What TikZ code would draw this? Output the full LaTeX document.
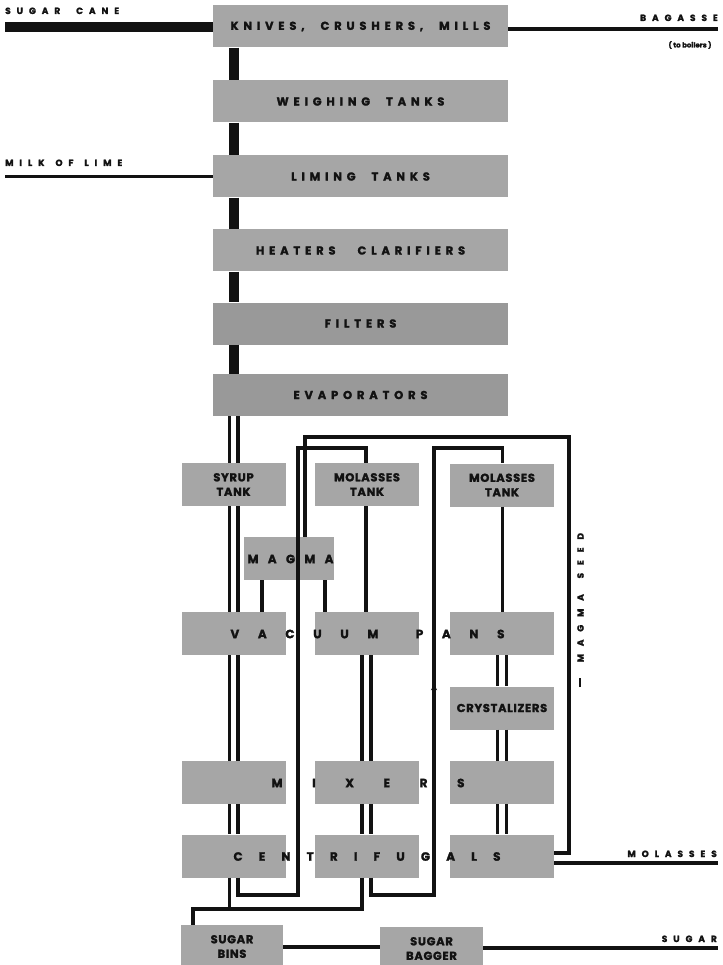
\documentclass[tikz,border=0pt]{standalone}
\usepackage{fontspec}
\setmainfont{Poppins}[BoldFeatures={FakeBold=1.8}]
\newfontfamily\widefont{Poppins}[LetterSpace=42,WordSpace=2.2,BoldFeatures={FakeBold=1.8}]
\newfontfamily\edgefont{Poppins}[LetterSpace=66,WordSpace=1.4,BoldFeatures={FakeBold=1.8}]
\newfontfamily\tightfont{Poppins}[LetterSpace=6,BoldFeatures={FakeBold=1.8}]
\usetikzlibrary{arrows.meta,decorations.markings}
\newcommand\spread[2]{\makebox[#1][s]{#2}}
\definecolor{boxgray}{RGB}{166,166,166}
\definecolor{darkgray}{RGB}{153,153,153}
\definecolor{ink}{RGB}{18,18,18}

\begin{document}
\begin{tikzpicture}[x=1pt,y=-1pt,
  unit/.style={fill=boxgray,text=ink,inner sep=0pt,minimum width=295pt,minimum height=42pt,
    font=\widefont\bfseries\fontsize{11.5}{13}\selectfont},
  vessel/.style={unit,minimum width=104pt,minimum height=43pt,align=center,
    font=\tightfont\bfseries\fontsize{11.5}{14.5}\selectfont},
  letters/.style={inner sep=0pt,text=ink,font=\bfseries\fontsize{12}{13}\selectfont},
  tag/.style={inner sep=0pt,text=ink,font=\edgefont\bfseries\fontsize{9}{10}\selectfont},
  pipe/.style={draw=ink,line width=3.2pt},
  cane/.style={draw=ink,line width=10pt}]
\useasboundingbox (0,0) rectangle (722,965);

\node[unit] (knives) at (360.5,26.5) {KNIVES, CRUSHERS, MILLS};
\node[unit] (weigh) at (360.5,101.5) {WEIGHING TANKS};
\node[unit] (lime) at (360.5,176.5) {LIMING TANKS};
\node[unit] (heat) at (360.5,250.5) {HEATERS\hspace{22pt}CLARIFIERS};
\node[unit,fill=darkgray] (filt) at (360.5,323.5) {FILTERS};
\node[unit,fill=darkgray] (evap) at (360.5,395) {EVAPORATORS};

\node[vessel] (syrup) at (233.5,484.5) {SYRUP\\TANK};
\node[vessel] (mtank1) at (367,484.5) {MOLASSES\\TANK};
\node[vessel] (mtank2) at (502,485) {MOLASSES\\TANK};
\node[vessel,minimum width=90pt] (magma) at (289,558.5) {};
\foreach \n/\x in {1/233.5,2/367,3/502}{
  \node[vessel] (pan\n) at (\x,633.5) {};
  \node[vessel] (mix\n) at (\x,782.5) {};
  \node[vessel] (cent\n) at (\x,856) {};
}
\node[vessel] (cryst) at (502,708) {CRYSTALIZERS};
\node[vessel,minimum width=102pt] (bins) at (232,946.5) {SUGAR\\BINS};
\node[vessel,minimum width=103pt] (bagger) at (431.5,948.5) {SUGAR\\BAGGER};

\coordinate (caneIn) at (5,27.5);
\coordinate (bagOut) at (718,29);
\coordinate (limeIn) at (5,176.5);
\coordinate (molOut) at (718,863);
\coordinate (seedOut) at (0,853);
\coordinate (sugLine) at (0,947);
\coordinate (sugOut) at (718,948);
\coordinate (trunk) at (233.5,0);
\coordinate (c1a) at (229.5,0);
\coordinate (c1b) at (238,0);
\coordinate (c2a) at (362,0);
\coordinate (c2b) at (371,0);
\coordinate (c2m) at (366,0);
\coordinate (c3a) at (497.5,0);
\coordinate (c3b) at (506.5,0);
\coordinate (c3m) at (502.5,0);
\coordinate (mg1) at (262,0);
\coordinate (mg2) at (325,0);
\coordinate (loopA) at (298,0);
\coordinate (loopB) at (434,0);
\coordinate (seedIn) at (305,0);
\coordinate (seedR) at (569,0);
\coordinate (binX) at (193,0);
\coordinate (ySeed) at (0,437);
\coordinate (yLoop) at (0,448);
\coordinate (yRet) at (0,895);
\coordinate (ySug) at (0,909);

\draw[cane] (caneIn) -- (caneIn -| knives.west);
\foreach \a/\b in {knives/weigh,weigh/lime,lime/heat,heat/filt,filt/evap}
  \draw[cane] (\a.south -| trunk) -- (\b.north -| trunk);
\draw[pipe] (knives.east |- bagOut) -- (bagOut);
\draw[pipe] (limeIn) -- (limeIn -| lime.west);

\foreach \x in {c1a,c1b}{
  \draw[pipe] (evap.south -| \x) -- (syrup.north -| \x);
  \draw[pipe] (syrup.south -| \x) -- (pan1.north -| \x);
  \draw[pipe] (pan1.south -| \x) -- (mix1.north -| \x);
  \draw[pipe] (mix1.south -| \x) -- (cent1.north -| \x);
}
\draw[pipe] (mtank1.south -| c2m) -- (pan2.north -| c2m);
\foreach \x in {c2a,c2b}{
  \draw[pipe] (pan2.south -| \x) -- (mix2.north -| \x);
  \draw[pipe] (mix2.south -| \x) -- (cent2.north -| \x);
}
\draw[pipe] (mtank2.south -| c3m) -- (pan3.north -| c3m);
\foreach \x in {c3a,c3b}{
  \draw[pipe] (pan3.south -| \x) -- (cryst.north -| \x);
  \draw[pipe] (cryst.south -| \x) -- (mix3.north -| \x);
  \draw[pipe] (mix3.south -| \x) -- (cent3.north -| \x);
}
\foreach \x/\p in {mg1/pan1,mg2/pan2}
  \draw[pipe] (magma.south -| \x) -- (\p.north -| \x);

\draw[pipe] (cent3.east |- seedOut) -| (seedR |- ySeed) -| (magma.north -| seedIn);
\draw[pipe] (cent3.east |- molOut) -- (molOut);
\draw[pipe] (cent1.south -| c1b) |- (loopA |- yRet) |- (c2m |- yLoop) -- (mtank1.north -| c2m);
\draw[pipe,postaction={decorate,decoration={markings,
    mark=at position 292pt with {\arrow{Stealth[length=7pt,width=6pt]}}}}]
  (cent2.south -| c2b) |- (loopB |- yRet) |- (c3m |- yLoop) -- (mtank2.north -| c3m);
\draw[pipe] (cent1.south -| c1a) -- (c1a |- ySug);
\draw[pipe] (cent2.south -| c2a) |- (binX |- ySug) -- (bins.north -| binX);
\draw[pipe] (bins.east |- sugLine) -- (bagger.west |- sugLine);
\draw[pipe] (bagger.east |- sugOut) -- (sugOut);

\node[letters] (magmatext) at (290.5,559) {\spread{86pt}{M\hfil A\hfil G\hfil M\hfil A}};
\node[letters] (pantext) at (367.5,634) {\spread{274pt}{V\hfil A\hfil C\hfil U\hfil U\hfil M\hfil\hfil P\hfil A\hfil N\hfil S}};
\node[letters] (mixtext) at (368,783) {\spread{193pt}{M\hfil I\hfil X\hfil E\hfil R\hfil S}};
\node[letters] (centtext) at (367,856.5) {\spread{267pt}{C\hfil E\hfil N\hfil T\hfil R\hfil I\hfil F\hfil U\hfil G\hfil A\hfil L\hfil S}};

\node[tag,anchor=base west] (canelabel) at (5,14) {SUGAR\hspace{16pt}CANE};
\node[tag,anchor=base east] (baglabel) at (718,21) {BAGASSE};
\node[inner sep=0pt,text=ink,font=\bfseries\fontsize{7}{8}\selectfont] (boilers) at (690,45) {( to boilers )};
\node[tag,anchor=base west] (limelabel) at (5,166) {MILK OF LIME};
\node[tag,anchor=base east] (mollabel) at (717,857) {MOLASSES};
\node[tag,anchor=base east] (suglabel) at (717,942) {SUGAR};
\node[tag,rotate=90] (seedlabel) at (580.5,610) {\spread{154pt}{\rule[3pt]{9pt}{1.8pt}\hfil\hfil M\hfil A\hfil G\hfil M\hfil A\hfil\hfil S\hfil E\hfil E\hfil D}};
\end{tikzpicture}
\end{document}
